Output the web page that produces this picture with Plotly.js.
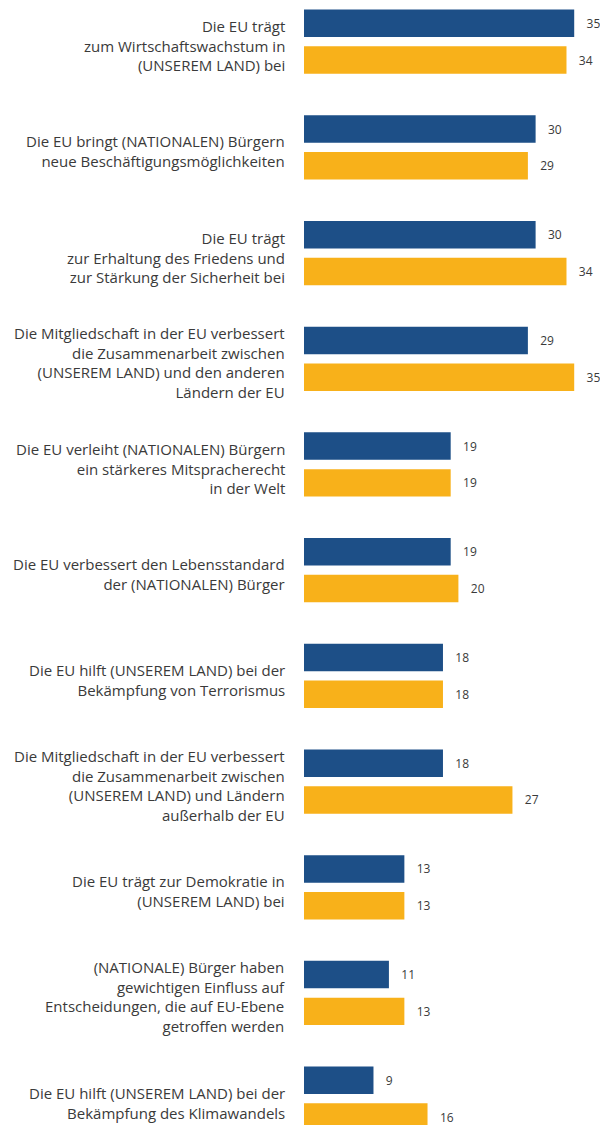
<!DOCTYPE html>
<html>
<head>
<meta charset="utf-8">
<script src="https://cdn.plot.ly/plotly-3.0.1.min.js"></script>
<style>html,body{margin:0;padding:0;background:#fff;}#chart{width:600px;height:1125px;}</style>
</head>
<body>
<div id="chart"></div>
<script>
const categories = [
  "Die EU trägt<br>zum Wirtschaftswachstum in<br>(UNSEREM LAND) bei",
  "Die EU bringt (NATIONALEN) Bürgern<br>neue Beschäftigungsmöglichkeiten",
  "Die EU trägt<br>zur Erhaltung des Friedens und<br>zur Stärkung der Sicherheit bei",
  "Die Mitgliedschaft in der EU verbessert<br>die Zusammenarbeit zwischen<br>(UNSEREM LAND) und den anderen<br>Ländern der EU",
  "Die EU verleiht (NATIONALEN) Bürgern<br>ein stärkeres Mitspracherecht<br>in der Welt",
  "Die EU verbessert den Lebensstandard<br>der (NATIONALEN) Bürger",
  "Die EU hilft (UNSEREM LAND) bei der<br>Bekämpfung von Terrorismus",
  "Die Mitgliedschaft in der EU verbessert<br>die Zusammenarbeit zwischen<br>(UNSEREM LAND) und Ländern<br>außerhalb der EU",
  "Die EU trägt zur Demokratie in<br>(UNSEREM LAND) bei",
  "(NATIONALE) Bürger haben<br>gewichtigen Einfluss auf<br>Entscheidungen, die auf EU-Ebene<br>getroffen werden",
  "Die EU hilft (UNSEREM LAND) bei der<br>Bekämpfung des Klimawandels"
];
const seriesBlue = [35, 30, 30, 29, 19, 19, 18, 18, 13, 11, 9];
const seriesOrange = [34, 29, 34, 35, 19, 20, 18, 27, 13, 13, 16];

const labelFont = {family: "Open Sans, sans-serif", size: 15, color: "#3a3a3a"};
const valueFont = {family: "Open Sans, sans-serif", size: 12, color: "#3a3a3a"};

const traces = [
  {type: "bar", orientation: "h", y: categories, x: seriesBlue,
   marker: {color: "#1d4f87"}, text: seriesBlue.map(String), texttemplate: "   %{text}",
   textposition: "outside", textfont: valueFont, cliponaxis: false, hoverinfo: "none"},
  {type: "bar", orientation: "h", y: categories, x: seriesOrange,
   marker: {color: "#f8b11a"}, text: seriesOrange.map(String), texttemplate: "   %{text}",
   textposition: "outside", textfont: valueFont, cliponaxis: false, hoverinfo: "none"}
];

const annotations = categories.map(c => ({
  xref: "paper", yref: "y", x: 0, y: c,
  xanchor: "right", yanchor: "middle", align: "right",
  xshift: -17, yshift: -4, showarrow: false,
  text: c, font: labelFont
}));

const layout = {
  width: 600, height: 1125,
  margin: {l: 304, r: 0, t: 0, b: 0, pad: 0},
  paper_bgcolor: "#ffffff", plot_bgcolor: "#ffffff",
  showlegend: false,
  barmode: "group", bargap: 0.304, bargroupgap: 0.253,
  xaxis: {range: [0, 38.34], visible: false, fixedrange: true},
  yaxis: {type: "category", categoryorder: "array", categoryarray: categories,
          range: [10.249, -0.3945], autorange: false,
          showticklabels: false, ticks: "",
          showline: false, showgrid: false, zeroline: false, fixedrange: true},
  annotations: annotations
};

Plotly.newPlot("chart", traces, layout, {staticPlot: true, displayModeBar: false});
</script>
</body>
</html>
